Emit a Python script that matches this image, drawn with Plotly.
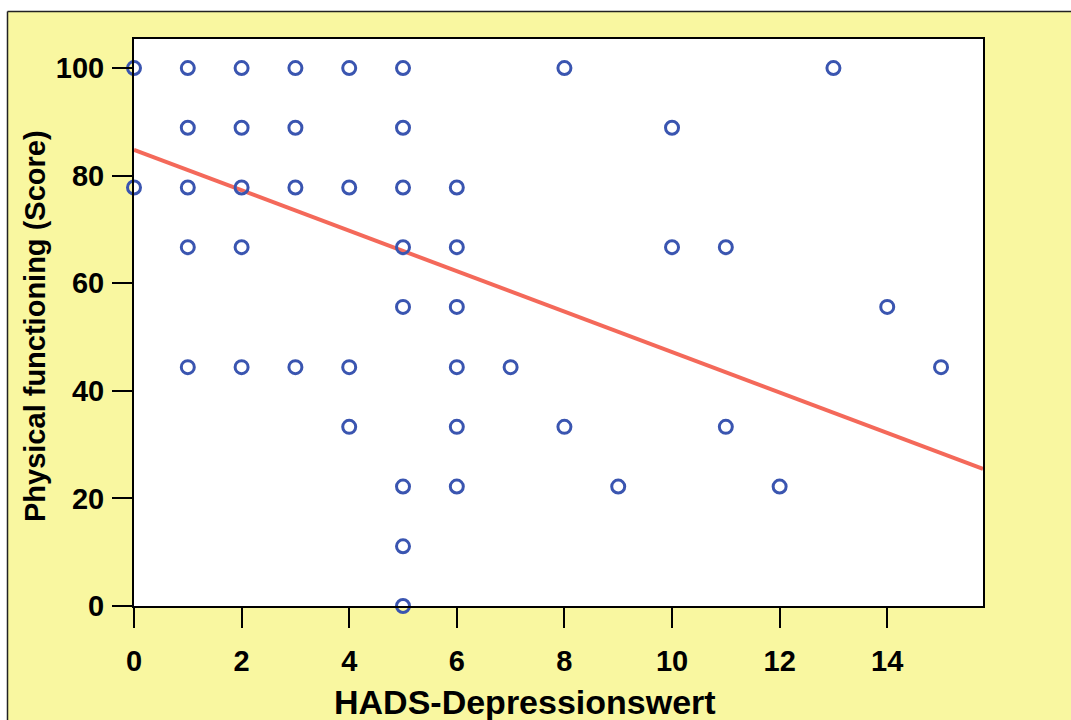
import plotly.graph_objects as go

# ---- data ----
hads = [0, 0,
        1, 1, 1, 1, 1,
        2, 2, 2, 2, 2,
        3, 3, 3, 3,
        4, 4, 4, 4,
        5, 5, 5, 5, 5, 5, 5, 5,
        6, 6, 6, 6, 6, 6,
        7,
        8, 8,
        9,
        10, 10,
        11, 11,
        12,
        13,
        14,
        15]
pf_score = [100, 77.8,
            100, 88.9, 77.8, 66.7, 44.4,
            100, 88.9, 77.8, 66.7, 44.4,
            100, 88.9, 77.8, 44.4,
            100, 77.8, 44.4, 33.3,
            100, 88.9, 77.8, 66.7, 55.6, 22.2, 11.1, 0,
            77.8, 66.7, 55.6, 44.4, 33.3, 22.2,
            44.4,
            100, 33.3,
            22.2,
            88.9, 66.7,
            66.7, 33.3,
            22.2,
            100,
            55.6,
            44.4]
fit_intercept = 84.8
fit_slope = -3.76
x_range = [0, 15.78]
y_range = [0, 105.4]
x_ticks = [0, 2, 4, 6, 8, 10, 12, 14]
y_ticks = [0, 20, 40, 60, 80, 100]

fit_x = x_range
fit_y = [fit_intercept + fit_slope * v for v in fit_x]

# ---- layout constants (pixels) ----
W, H = 1071, 720
L, R, T, B = 134, 983, 39, 606
pw, ph = R - L, B - T

def px(x):
    return (x - L) / pw

def py(y):
    return (B - y) / ph

YELLOW = "#F9F7A0"
BLUE = "#3A55B0"
RED = "#F4695A"
FONT = "Liberation Sans, Arial, sans-serif"

fig = go.Figure()
fig.add_trace(go.Scatter(
    x=fit_x, y=fit_y, mode="lines",
    line=dict(color=RED, width=4),
    hoverinfo="skip", showlegend=False, cliponaxis=True))
fig.add_trace(go.Scatter(
    x=hads, y=pf_score, mode="markers",
    marker=dict(symbol="circle-open", size=13, color=BLUE,
                line=dict(width=3, color=BLUE)),
    showlegend=False, cliponaxis=False))

axis_common = dict(
    showline=True, linecolor="black", linewidth=2, mirror=True,
    ticks="outside", ticklen=20, tickwidth=2, tickcolor="black",
    showgrid=False, zeroline=False,
    tickfont=dict(family=FONT, size=29, color="black", weight="bold"),
)

fig.update_xaxes(range=x_range, tickvals=x_ticks, ticklabelstandoff=8, **axis_common)
fig.update_yaxes(range=y_range, tickvals=y_ticks, ticklabelstandoff=2, **axis_common)

shapes = [
    # white strips outside the yellow frame
    dict(type="rect", xref="paper", yref="paper", x0=px(-5), x1=px(W + 5),
         y0=py(11.5), y1=py(-5), fillcolor="white", line=dict(width=0), layer="below"),
    dict(type="rect", xref="paper", yref="paper", x0=px(-5), x1=px(7.5),
         y0=py(H + 5), y1=py(-5), fillcolor="white", line=dict(width=0), layer="below"),
    # frame lines
    dict(type="line", xref="paper", yref="paper", x0=px(7.5), x1=px(W + 5),
         y0=py(11.5), y1=py(11.5), line=dict(color="#222", width=1.5)),
    dict(type="line", xref="paper", yref="paper", x0=px(7.5), x1=px(7.5),
         y0=py(11.5), y1=py(H + 5), line=dict(color="#222", width=1.5)),
]

annotations = [
    dict(text="HADS-Depressionswert", xref="paper", yref="paper",
         x=px(525), y=py(702), xanchor="center", yanchor="middle", showarrow=False,
         font=dict(family=FONT, size=34, color="black", weight="bold")),
    dict(text="Physical functioning (Score)", xref="paper", yref="paper",
         x=px(35), y=py(326), xanchor="center", yanchor="middle", showarrow=False,
         textangle=-90,
         font=dict(family=FONT, size=29, color="black", weight="bold")),
]

fig.update_layout(
    width=W, height=H,
    margin=dict(l=L, r=W - R, t=T, b=H - B, pad=0),
    paper_bgcolor=YELLOW, plot_bgcolor="white",
    shapes=shapes, annotations=annotations,
    showlegend=False,
)

fig.write_html("out.html")
